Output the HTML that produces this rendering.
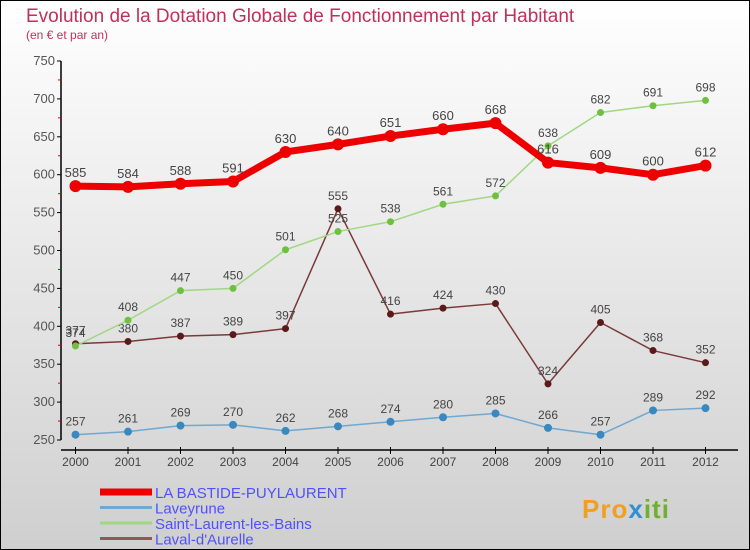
<!DOCTYPE html>
<html><head><meta charset="utf-8"><style>
html,body{margin:0;padding:0;}
body{width:750px;height:550px;overflow:hidden;font-family:"Liberation Sans","DejaVu Sans",sans-serif;}
svg{display:block;}
</style></head><body>
<svg id="chart" width="750" height="550" xmlns="http://www.w3.org/2000/svg">
<defs>
<linearGradient id="bg" x1="0" y1="0" x2="0" y2="1"><stop offset="0" stop-color="#ffffff"/><stop offset="1" stop-color="#cfcfcf"/></linearGradient>
</defs>
<rect x="0.5" y="0.5" width="749" height="549" fill="url(#bg)" stroke="#000"/>
<text x="26" y="22" font-size="19" fill="#c0305a">Evolution de la Dotation Globale de Fonctionnement par Habitant</text>
<text x="26" y="39" font-size="12" fill="#c0305a">(en € et par an)</text>
<g id="axes"></g>
<g id="series"></g>
<g id="legend"></g>
<g>
<text x="582" y="518" font-size="26" font-weight="bold" fill="#f0a020" letter-spacing="1">Pro<tspan fill="#3090d0">x</tspan><tspan fill="#70b030">iti</tspan></text>
</g>
</svg>
<script>
const years = [2000,2001,2002,2003,2004,2005,2006,2007,2008,2009,2010,2011,2012];
const yTicks = [250,300,350,400,450,500,550,600,650,700,750];
const seriesNames = ["LA BASTIDE-PUYLAURENT","Laveyrune","Saint-Laurent-les-Bains","Laval-d'Aurelle"];
const bastide = [585,584,588,591,630,640,651,660,668,616,609,600,612];
const laveyrune = [257,261,269,270,262,268,274,280,285,266,257,289,292];
const saintLaurent = [374,408,447,450,501,525,538,561,572,638,682,691,698];
const laval = [377,380,387,389,397,555,416,424,430,324,405,368,352];

const NS="http://www.w3.org/2000/svg";
function xs(i){return 75.5+i*52.5;}
function ys(v){return 440-(v-250)*379/500;}
function mk(tag,attrs,parent){const e=document.createElementNS(NS,tag);for(const k in attrs)e.setAttribute(k,attrs[k]);parent.appendChild(e);return e;}
const axes=document.getElementById('axes');
const yAxis=mk('line',{x1:61,y1:ys(750),x2:61,y2:ys(250),stroke:'#000','stroke-width':1.5},axes);


const xAxis=mk('line',{x1:61,y1:450,x2:738,y2:450,stroke:'#000','stroke-width':1.5},axes);


yTicks.forEach((v,i)=>{
  mk('line',{x1:57,y1:ys(v),x2:61,y2:ys(v),stroke:'#000'},axes);
  if(i<yTicks.length-1) mk('line',{x1:58,y1:ys(v+25),x2:61,y2:ys(v+25),stroke:'#d00'},axes);
  const t=mk('text',{x:55,y:ys(v)+4,'font-size':13,fill:'#555','text-anchor':'end'},axes);
  t.textContent=v;
  
  
});
years.forEach((y,i)=>{
  mk('line',{x1:xs(i),y1:447,x2:xs(i),y2:454,stroke:'#000'},axes);
  const t=mk('text',{x:xs(i),y:466,'font-size':12,fill:'#444','text-anchor':'middle'},axes);
  t.textContent=y;
  
  
});
const ser=document.getElementById('series');
function drawSeries(data,color,dot,w,r,fs,name){
  const g=mk('g',{},ser);
  
  
  mk('polyline',{points:data.map((v,i)=>xs(i)+','+ys(v)).join(' '),fill:'none',stroke:color,'stroke-width':w,'stroke-linejoin':'round'},g);
  data.forEach((v,i)=>{
    const c=mk('circle',{cx:xs(i),cy:ys(v),r:r,fill:dot},g);
    
    
    const t=mk('text',{x:xs(i),y:ys(v)-9,'font-size':fs,fill:'#444','text-anchor':'middle'},g);
    t.textContent=v;
    
    
  });
}
drawSeries(laval,'#7a3a3a','#5a1a1a',1.5,3.5,12,'series-laval');
drawSeries(saintLaurent,'#a0d880','#70c040',1.5,3.5,12,'series-saint-laurent');
drawSeries(laveyrune,'#6fa8d0','#3a88c0',1.5,4,12,'series-laveyrune');
drawSeries(bastide,'#ee0000','#ee0000',7,6,13,'series-bastide');
const lg=document.getElementById('legend');
const lcol=['#ee0000','#6fa8d0','#a0d880','#8a5a5a'];
const lw=[7,3,3,3];
seriesNames.forEach((n,i)=>{
  const y=492+i*15.5;
  const l=mk('line',{x1:100,y1:y,x2:152,y2:y,stroke:lcol[i],'stroke-width':lw[i]},lg);
  
  
  const t=mk('text',{x:155,y:y+6,'font-size':15,fill:'#5050ff'},lg);
  t.textContent=n;
  
  
});
</script>
</body></html>
